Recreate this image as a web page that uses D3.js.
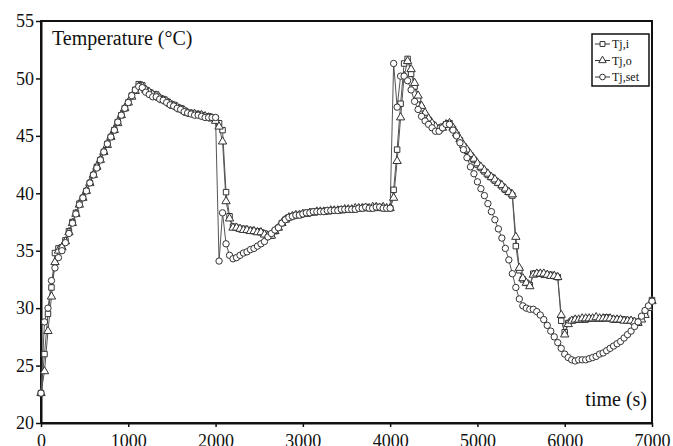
<!DOCTYPE html>
<html>
<head>
<meta charset="utf-8">
<script src="https://cdn.jsdelivr.net/npm/d3@7"></script>
<style>
  body { margin: 0; background: #fff; }
  svg { display: block; }
  text { font-family: "Liberation Serif", "DejaVu Serif", serif; fill: #111; }
</style>
</head>
<body>
<div id="chart"></div>
<script>
// Sampling of the logged series (seconds)
const startTime = 0;
const sampleStep = 40;

// Tj,i  (one row per 1000 s, last value at 7000 s)
const tji = [
  22.6, 26.0, 29.5, 31.8, 34.8, 35.2, 35.3, 35.9, 36.7, 37.5, 38.3, 39.1, 39.6, 40.2, 40.9, 41.6, 42.3, 42.9, 43.6, 44.3, 44.9, 45.5, 46.2, 46.8, 47.4,
  47.9, 48.5, 49.0, 49.5, 49.4, 49.0, 48.8, 48.6, 48.6, 48.3, 48.2, 48.0, 47.8, 47.7, 47.5, 47.4, 47.2, 47.0, 47.0, 46.9, 46.9, 46.8, 46.7, 46.7, 46.6,
  46.5, 46.1, 45.5, 40.1, 38.0, 37.1, 37.0, 36.9, 36.9, 36.8, 36.8, 36.7, 36.7, 36.6, 36.5, 36.3, 36.3, 36.7, 37.0, 37.4, 37.7, 37.9, 38.0, 38.1, 38.1,
  38.2, 38.3, 38.3, 38.4, 38.4, 38.4, 38.4, 38.5, 38.5, 38.5, 38.5, 38.6, 38.6, 38.6, 38.6, 38.6, 38.7, 38.7, 38.8, 38.7, 38.7, 38.8, 38.8, 38.7, 38.7,
  38.7, 40.3, 43.8, 47.8, 51.3, 51.7, 50.4, 49.3, 48.2, 47.4, 46.8, 46.4, 46.0, 45.7, 45.5, 45.8, 46.0, 46.1, 45.6, 45.1, 44.6, 44.1, 43.7, 43.3, 42.9,
  42.5, 42.2, 41.9, 41.6, 41.4, 41.1, 40.9, 40.6, 40.3, 40.1, 39.8, 35.4, 33.3, 32.5, 32.2, 32.0, 33.0, 33.0, 33.0, 32.9, 32.9, 32.9, 32.8, 32.7, 28.9,
  27.9, 28.7, 28.9, 29.0, 29.0, 29.0, 29.0, 29.1, 29.1, 29.1, 29.1, 29.1, 29.2, 29.1, 29.0, 29.0, 29.0, 29.0, 28.9, 28.9, 28.8, 28.8, 29.1, 29.5, 30.1,
  30.7
];

// Tj,o
const tjo = [
  22.6, 24.5, 28.0, 31.0, 34.0, 35.0, 35.3, 35.8, 36.6, 37.4, 38.2, 39.0, 39.6, 40.2, 40.9, 41.6, 42.3, 42.9, 43.6, 44.2, 44.9, 45.5, 46.1, 46.8, 47.4,
  47.9, 48.4, 48.9, 49.3, 49.3, 49.0, 48.8, 48.6, 48.5, 48.3, 48.1, 48.0, 47.8, 47.6, 47.5, 47.3, 47.2, 47.0, 46.9, 46.9, 46.8, 46.8, 46.7, 46.6, 46.5,
  46.3, 45.8, 44.5, 39.3, 37.8, 37.0, 37.0, 36.9, 36.8, 36.8, 36.7, 36.7, 36.6, 36.6, 36.4, 36.3, 36.3, 36.7, 37.0, 37.4, 37.7, 37.9, 38.0, 38.1, 38.1,
  38.2, 38.2, 38.3, 38.3, 38.4, 38.4, 38.4, 38.4, 38.5, 38.5, 38.5, 38.5, 38.6, 38.6, 38.6, 38.7, 38.7, 38.7, 38.7, 38.7, 38.8, 38.8, 38.7, 38.8, 38.7,
  38.7, 39.6, 42.8, 46.6, 50.2, 51.5, 50.8, 49.6, 48.5, 47.6, 47.0, 46.5, 46.1, 45.8, 45.6, 45.7, 46.0, 46.1, 45.7, 45.2, 44.7, 44.2, 43.8, 43.4, 43.0,
  42.6, 42.3, 42.0, 41.7, 41.4, 41.2, 40.9, 40.7, 40.4, 40.1, 39.9, 36.2, 33.5, 32.6, 32.2, 31.9, 32.9, 33.0, 33.0, 33.0, 32.9, 32.8, 32.8, 32.7, 29.4,
  27.7, 28.6, 28.9, 29.0, 29.0, 29.1, 29.1, 29.1, 29.1, 29.2, 29.1, 29.1, 29.1, 29.1, 29.0, 29.0, 29.0, 28.9, 28.9, 28.9, 28.8, 28.7, 29.0, 29.4, 30.0,
  30.6
];

// Tj,set
const tjset = [
  22.6, 28.8, 30.0, 32.4, 33.5, 34.4, 35.0, 35.7, 36.5, 37.4, 38.2, 39.0, 39.6, 40.2, 40.9, 41.6, 42.2, 42.9, 43.6, 44.3, 44.9, 45.5, 46.2, 46.8, 47.4,
  47.9, 48.5, 49.0, 49.3, 49.2, 48.8, 48.6, 48.4, 48.4, 48.2, 48.1, 47.9, 47.7, 47.6, 47.4, 47.3, 47.1, 47.0, 46.9, 46.8, 46.8, 46.7, 46.6, 46.6, 46.6,
  46.6, 34.1, 38.3, 35.6, 34.6, 34.3, 34.4, 34.6, 34.8, 34.9, 35.1, 35.2, 35.4, 35.6, 35.8, 36.2, 36.5, 36.8, 37.0, 37.4, 37.7, 37.9, 38.0, 38.1, 38.1,
  38.2, 38.3, 38.3, 38.4, 38.4, 38.4, 38.4, 38.5, 38.5, 38.5, 38.5, 38.6, 38.6, 38.6, 38.6, 38.6, 38.7, 38.7, 38.8, 38.7, 38.7, 38.8, 38.8, 38.7, 38.7,
  38.7, 51.3, 47.5, 50.2, 50.2, 49.8, 49.0, 48.0, 47.3, 46.7, 46.3, 46.0, 45.7, 45.4, 45.4, 45.7, 46.0, 46.0, 45.5, 45.0, 44.4, 43.8, 43.1, 42.3, 41.7,
  41.0, 40.4, 39.8, 39.1, 38.4, 37.7, 36.9, 36.1, 35.2, 34.2, 33.0, 31.8, 30.8, 30.2, 30.0, 29.9, 29.9, 29.7, 29.4, 29.0, 28.5, 28.0, 27.5, 27.0, 26.5,
  26.0, 25.7, 25.5, 25.4, 25.5, 25.5, 25.5, 25.6, 25.7, 25.8, 26.0, 26.1, 26.3, 26.5, 26.7, 26.9, 27.1, 27.4, 27.7, 28.0, 28.4, 28.8, 29.3, 29.8, 30.2,
  30.6
];

const seriesNames = ["Tj,i", "Tj,o", "Tj,set"];
const xTicks = [0, 1000, 2000, 3000, 4000, 5000, 6000, 7000];
const yTicks = [20, 25, 30, 35, 40, 45, 50, 55];

const width = 673;
const height = 446;
const margin = {top: 21, right: 21, bottom: 23, left: 41};
const serif = "Liberation Serif, DejaVu Serif, serif";

const svg = d3.select("#chart")
    .append("svg")
        .attr("width", width)
        .attr("height", height);

const x = d3.scaleLinear()
    .domain([0, 7000])
    .range([margin.left, width - margin.right]);

const y = d3.scaleLinear()
    .domain([20, 55])
    .range([height - margin.bottom, margin.top]);

// Axes
const xAxis = svg.append("g")
    .attr("transform", `translate(0,${height - margin.bottom})`)
    .call(d3.axisBottom(x).tickValues(xTicks).tickFormat(d3.format("d"))
        .tickSize(4).tickSizeOuter(0).tickPadding(7));

const yAxis = svg.append("g")
    .attr("transform", `translate(${margin.left},0)`)
    .call(d3.axisLeft(y).tickValues(yTicks).tickFormat(d3.format("d"))
        .tickSize(5).tickSizeOuter(0).tickPadding(2));

[xAxis, yAxis].forEach(g => {
    g.attr("font-family", serif).attr("font-size", 18);
    g.selectAll("text").attr("fill", "#111");
    g.selectAll("line").attr("stroke", "#111").attr("stroke-width", 1.5);
    g.select(".domain").attr("stroke", "#111").attr("stroke-width", 2);
});

// Plot frame (top and right)
svg.append("rect")
    .attr("x", margin.left)
    .attr("y", margin.top)
    .attr("width", width - margin.left - margin.right)
    .attr("height", height - margin.top - margin.bottom)
    .attr("fill", "none")
    .attr("stroke", "#111")
    .attr("stroke-width", 2);

// Series
const allSeries = [tji, tjo, tjset];
const symbols = [d3.symbolSquare, d3.symbolTriangle, d3.symbolCircle];
const symbolSizes = [30, 30, 32];

const line = d3.line()
    .x((d, i) => x(startTime + i * sampleStep))
    .y(d => y(d));

allSeries.forEach(values => {
    svg.append("path")
        .datum(values)
        .attr("d", line)
        .attr("fill", "none")
        .attr("stroke", "#555")
        .attr("stroke-width", 1);
});

allSeries.forEach((values, k) => {
    svg.append("g")
        .selectAll("path")
        .data(values)
        .join("path")
            .attr("transform", (d, i) => `translate(${x(startTime + i * sampleStep)},${y(d)})`)
            .attr("d", d3.symbol().type(symbols[k]).size(symbolSizes[k]))
            .attr("fill", "#fff")
            .attr("stroke", "#333")
            .attr("stroke-width", 1);
});

// Axis titles inside the plot
svg.append("text")
    .attr("x", 52)
    .attr("y", 45)
    .attr("font-family", serif)
    .attr("font-size", 20)
    .text("Temperature (°C)");

svg.append("text")
    .attr("x", 647)
    .attr("y", 406)
    .attr("text-anchor", "end")
    .attr("font-family", serif)
    .attr("font-size", 20)
    .text("time (s)");

// Legend
const legend = svg.append("g");
legend.append("rect")
    .attr("x", 592)
    .attr("y", 34)
    .attr("width", 57)
    .attr("height", 52)
    .attr("fill", "#fff")
    .attr("stroke", "#111")
    .attr("stroke-width", 1.5);

seriesNames.forEach((name, k) => {
    const ly = 44 + k * 16.5;
    legend.append("line")
        .attr("x1", 595).attr("x2", 610)
        .attr("y1", ly).attr("y2", ly)
        .attr("stroke", "#333")
        .attr("stroke-width", 1);
    legend.append("path")
        .attr("transform", `translate(602.5,${ly})`)
        .attr("d", d3.symbol().type(symbols[k]).size(symbolSizes[k] * 0.8))
        .attr("fill", "#fff")
        .attr("stroke", "#333");
    legend.append("text")
        .attr("x", 612)
        .attr("y", ly + 4)
        .attr("font-family", serif)
        .attr("font-size", 12)
        .text(name);
});
</script>
</body>
</html>
